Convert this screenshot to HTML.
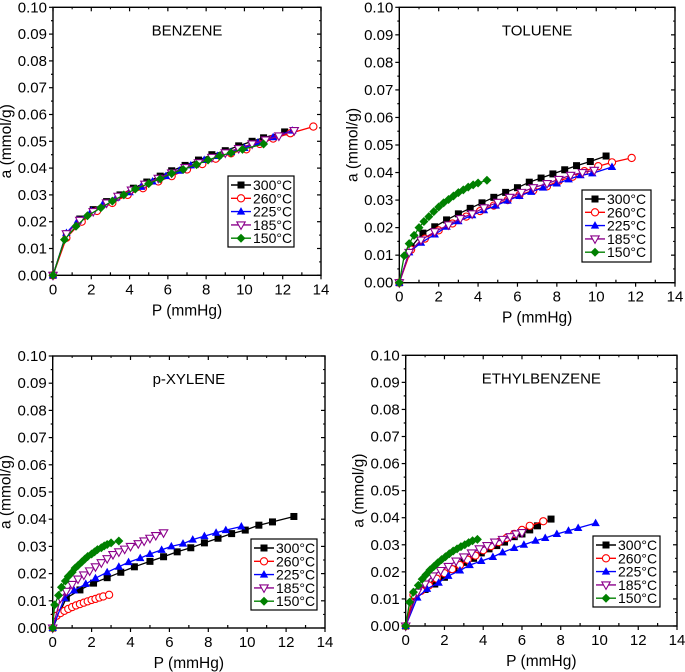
<!DOCTYPE html>
<html><head><meta charset="utf-8">
<style>
html,body{margin:0;padding:0;background:#fff;}
svg{display:block;font-family:"Liberation Sans",Arial,sans-serif;}
</style></head>
<body>
<svg id="fig" width="685" height="672" viewBox="0 0 685 672" xmlns="http://www.w3.org/2000/svg"></svg>
<script>
// ---- data ----
const temps = ["300°C","260°C","225°C","185°C","150°C"];
const xTicks = [0,2,4,6,8,10,12,14];
const yTicks = [0.00,0.01,0.02,0.03,0.04,0.05,0.06,0.07,0.08,0.09,0.10];

const benzene300 = [[0,0],[0.7,0.0155],[1.4,0.021],[2.1,0.0245],[2.8,0.0275],[3.5,0.030],[4.2,0.0325],[4.9,0.0348],[5.6,0.037],[6.2,0.039],[6.9,0.041],[7.6,0.043],[8.3,0.045],[9.0,0.0465],[9.7,0.0483],[10.4,0.050],[11.0,0.0513],[12.1,0.0535]];
const benzene260 = [[0,0],[0.7,0.014],[1.5,0.020],[2.3,0.024],[3.1,0.027],[3.9,0.030],[4.7,0.0325],[5.5,0.035],[6.2,0.037],[7.0,0.0395],[7.8,0.0415],[8.5,0.0435],[9.3,0.0455],[10.1,0.047],[10.8,0.049],[11.5,0.051],[12.4,0.053],[13.6,0.0555]];
const benzene225 = [[0,0],[0.7,0.0158],[1.3,0.0205],[2.0,0.024],[2.6,0.0265],[3.3,0.029],[4.0,0.031],[4.6,0.033],[5.2,0.035],[5.9,0.037],[6.6,0.039],[7.2,0.041],[7.9,0.043],[8.6,0.0445],[9.3,0.046],[10.0,0.0475],[10.7,0.0495],[11.5,0.0515],[12.5,0.054]];
const benzene185 = [[0,0],[0.7,0.0155],[1.4,0.0205],[2.1,0.0238],[2.8,0.027],[3.4,0.0295],[4.1,0.0318],[4.8,0.034],[5.5,0.0362],[6.2,0.0382],[6.9,0.0402],[7.6,0.042],[8.3,0.044],[9.0,0.0457],[9.7,0.0473],[10.4,0.049],[11.1,0.0505],[11.8,0.052],[12.6,0.054]];
const benzene150 = [[0,0],[0.6,0.0133],[1.2,0.0183],[1.8,0.0222],[2.5,0.0252],[3.1,0.0277],[3.7,0.030],[4.3,0.0322],[5.0,0.0342],[5.6,0.036],[6.2,0.038],[6.8,0.0395],[7.5,0.0413],[8.1,0.043],[8.7,0.0445],[9.3,0.0457],[9.9,0.047],[11.0,0.049]];

const toluene300 = [[0,0],[0.6,0.013],[1.2,0.018],[1.8,0.0203],[2.4,0.0228],[3.0,0.025],[3.6,0.027],[4.2,0.029],[4.8,0.031],[5.4,0.0328],[6.0,0.0345],[6.6,0.0365],[7.2,0.038],[7.8,0.0395],[8.4,0.041],[9.0,0.0425],[9.7,0.044],[10.5,0.046]];
const toluene260 = [[0,0],[0.6,0.012],[1.3,0.016],[2.0,0.019],[2.7,0.0215],[3.4,0.024],[4.1,0.026],[4.8,0.028],[5.5,0.030],[6.1,0.0318],[6.8,0.0335],[7.5,0.035],[8.1,0.037],[8.8,0.0385],[9.4,0.0405],[10.1,0.0423],[10.8,0.0437],[11.8,0.0453]];
const toluene225 = [[0,0],[0.5,0.011],[1.1,0.0145],[1.8,0.0175],[2.4,0.0203],[3.0,0.0223],[3.7,0.0245],[4.3,0.0263],[4.9,0.028],[5.5,0.0298],[6.1,0.0315],[6.7,0.033],[7.3,0.0345],[8.0,0.036],[8.6,0.0375],[9.2,0.039],[9.8,0.0397],[10.8,0.042]];
const toluene185 = [[0,0],[0.5,0.011],[1.1,0.0155],[1.8,0.0185],[2.5,0.021],[3.1,0.0233],[3.7,0.025],[4.3,0.0272],[5.0,0.0292],[5.6,0.031],[6.2,0.0328],[6.8,0.0345],[7.5,0.036],[8.1,0.0375],[8.7,0.039],[9.3,0.040],[9.9,0.0408]];
const toluene150 = [[0,0],[0.25,0.0098],[0.5,0.0142],[0.75,0.0172],[1.0,0.020],[1.25,0.0222],[1.5,0.024],[1.75,0.0258],[2.0,0.0275],[2.25,0.029],[2.5,0.0302],[2.75,0.0315],[3.0,0.0327],[3.25,0.0337],[3.5,0.0347],[3.75,0.0355],[4.0,0.0362],[4.45,0.0372]];

const xylene300 = [[0,0],[0.7,0.011],[1.4,0.014],[2.1,0.0165],[2.8,0.0185],[3.5,0.0205],[4.2,0.0225],[5.0,0.0245],[5.7,0.0262],[6.4,0.028],[7.1,0.0295],[7.8,0.0313],[8.5,0.033],[9.2,0.0347],[9.9,0.036],[10.6,0.0378],[11.3,0.039],[12.4,0.041]];
const xylene260 = [[0,0],[0.2,0.0045],[0.4,0.0055],[0.6,0.0063],[0.8,0.007],[1.0,0.0077],[1.2,0.0083],[1.4,0.0088],[1.6,0.0093],[1.8,0.0098],[2.0,0.0103],[2.2,0.0107],[2.4,0.0112],[2.6,0.0116],[2.9,0.0122]];
const xylene225 = [[0,0],[0.6,0.011],[1.1,0.0138],[1.7,0.0162],[2.2,0.0183],[2.8,0.0205],[3.4,0.0225],[3.9,0.0242],[4.5,0.0257],[5.0,0.0272],[5.6,0.0287],[6.1,0.030],[6.7,0.031],[7.2,0.0325],[7.8,0.0338],[8.4,0.035],[8.9,0.036],[9.7,0.0373]];
const xylene185 = [[0,0],[0.4,0.011],[0.7,0.0135],[1.0,0.016],[1.3,0.018],[1.6,0.0195],[1.9,0.021],[2.2,0.0225],[2.5,0.024],[2.8,0.0255],[3.1,0.027],[3.4,0.028],[3.7,0.029],[4.0,0.030],[4.4,0.031],[4.7,0.032],[5.0,0.033],[5.3,0.034],[5.7,0.035]];
const xylene150 = [[0,0],[0.1,0.0085],[0.3,0.012],[0.45,0.015],[0.65,0.0173],[0.8,0.019],[1.0,0.0205],[1.15,0.022],[1.3,0.023],[1.5,0.0243],[1.65,0.0253],[1.8,0.0263],[2.0,0.0272],[2.15,0.028],[2.3,0.0288],[2.5,0.0295],[2.65,0.0302],[2.8,0.0307],[3.0,0.0313],[3.4,0.032]];

const ethyl300 = [[0,0],[0.5,0.011],[1.0,0.0135],[1.5,0.0155],[2.0,0.018],[2.5,0.021],[3.0,0.0235],[3.5,0.025],[3.9,0.027],[4.3,0.0285],[4.7,0.0297],[5.1,0.031],[5.6,0.033],[6.0,0.034],[6.4,0.0355],[6.8,0.037],[7.5,0.0395]];
const ethyl260 = [[0,0],[0.4,0.0115],[0.8,0.013],[1.2,0.015],[1.6,0.0175],[2.0,0.0195],[2.4,0.021],[2.8,0.0225],[3.2,0.0245],[3.6,0.026],[4.0,0.028],[4.4,0.0295],[4.8,0.031],[5.2,0.0325],[5.6,0.034],[6.0,0.0355],[6.4,0.037],[7.1,0.0387]];
const ethyl225 = [[0,0],[0.6,0.0105],[1.1,0.0137],[1.7,0.016],[2.2,0.0185],[2.8,0.0205],[3.3,0.0225],[3.9,0.024],[4.5,0.0255],[5.0,0.0272],[5.6,0.0288],[6.1,0.030],[6.7,0.0315],[7.2,0.0325],[7.8,0.034],[8.4,0.0352],[8.9,0.0362],[9.8,0.038]];
const ethyl185 = [[0,0],[0.6,0.0125],[1.0,0.0155],[1.4,0.0185],[1.8,0.0205],[2.2,0.022],[2.6,0.024],[3.0,0.0255],[3.4,0.027],[3.8,0.0285],[4.2,0.0297],[4.6,0.031],[5.0,0.032],[5.4,0.033],[5.7,0.034],[6.0,0.0345]];
const ethyl150 = [[0,0],[0.2,0.0088],[0.4,0.0125],[0.65,0.015],[0.85,0.0173],[1.05,0.019],[1.25,0.0207],[1.45,0.022],[1.65,0.0233],[1.85,0.0245],[2.05,0.0256],[2.25,0.0267],[2.45,0.0277],[2.65,0.0285],[2.85,0.0293],[3.05,0.03],[3.25,0.0308],[3.45,0.0315],[3.7,0.032]];

const NS = "http://www.w3.org/2000/svg";
const svg = document.getElementById("fig");
const colors = ["#000000","#ff0000","#0000ff","#8b008b","#008000"];
const markers = ["square","circle","triangle","itriangle","diamond"];

function mk(tag, attrs, parent){
  const e = document.createElementNS(NS, tag);
  for (const k in attrs) e.setAttribute(k, attrs[k]);
  parent.appendChild(e);
  return e;
}
function marker(g, type, x, y, c){
  let m;
  if (type==="square") m = mk("rect",{x:x-3.5,y:y-3.5,width:7,height:7,fill:c},g);
  else if (type==="circle") m = mk("circle",{cx:x,cy:y,r:3.6,fill:"#fff",stroke:c,"stroke-width":1.1},g);
  else if (type==="triangle") m = mk("polygon",{points:`${x},${y-4.5} ${x-4.2},${y+3} ${x+4.2},${y+3}`,fill:c},g);
  else if (type==="itriangle") m = mk("polygon",{points:`${x},${y+4.5} ${x-4.2},${y-3} ${x+4.2},${y-3}`,fill:"#fff",stroke:c,"stroke-width":1.1},g);
  else m = mk("polygon",{points:`${x},${y-4.5} ${x+4.5},${y} ${x},${y+4.5} ${x-4.5},${y}`,fill:c},g);
  
  
}

function panel(name, title, L, R, T, B, series, leg){
  const g = mk("g",{},svg);
  
  
  const xs = v => L + (v - 0) / 14 * (R - L);
  const ys = v => B - v / 0.10 * (B - T);
  const fr = mk("rect",{x:L,y:T,width:R-L,height:B-T,fill:"none",stroke:"#000","stroke-width":1.4},g);
  
  
  xTicks.forEach((t,i)=>{
    const x = xs(t);
    mk("line",{x1:x,y1:B,x2:x,y2:B+4,stroke:"#000","stroke-width":1.2},g);
    mk("line",{x1:x,y1:T,x2:x,y2:T+4,stroke:"#000","stroke-width":1.2},g);
    const tx = mk("text",{x:x,y:B+19,"text-anchor":"middle","font-size":15},g);
    tx.textContent = t;
    
    
    if (i < xTicks.length-1){
      const xm = xs(t+1);
      mk("line",{x1:xm,y1:B,x2:xm,y2:B-3,stroke:"#000","stroke-width":1.2},g);
      mk("line",{x1:xm,y1:T,x2:xm,y2:T+2,stroke:"#000","stroke-width":1},g);
    }
  });
  yTicks.forEach((t,i)=>{
    const y = ys(t);
    mk("line",{x1:L,y1:y,x2:L-4,y2:y,stroke:"#000","stroke-width":1.2},g);
    mk("line",{x1:R,y1:y,x2:R-4,y2:y,stroke:"#000","stroke-width":1.2},g);
    const ty = mk("text",{x:L-6,y:y+5,"text-anchor":"end","font-size":15},g);
    ty.textContent = t.toFixed(2);
    
    
    if (i < yTicks.length-1){
      const ym = ys(t+0.005);
      mk("line",{x1:L,y1:ym,x2:L-2,y2:ym,stroke:"#000","stroke-width":1.2},g);
      mk("line",{x1:R,y1:ym,x2:R-2,y2:ym,stroke:"#000","stroke-width":1},g);
    }
  });
  const xl = mk("text",{x:(L+R)/2,y:B+40,"text-anchor":"middle","font-size":15.5},g);
  xl.textContent = "P (mmHg)";
  
  
  const cy = (T+B)/2;
  const yl = mk("text",{x:0,y:0,"text-anchor":"middle","font-size":15.5,transform:`translate(${L-42},${cy}) rotate(-90)`},g);
  yl.textContent = "a (mmol/g)";
  
  
  const tt = mk("text",{x:(L+R)/2,y:T+28,"text-anchor":"middle","font-size":15},g);
  tt.textContent = title;
  
  
  series.forEach((s,i)=>{
    const sg = mk("g",{},g);
    
    
    const pts = s.map(p=>xs(p[0]).toFixed(1)+","+ys(p[1]).toFixed(1)).join(" ");
    const pl = mk("polyline",{points:pts,fill:"none",stroke:colors[i],"stroke-width":1.3},sg);
    
    
    s.forEach(p=>marker(sg, markers[i], xs(p[0]), ys(p[1]), colors[i]));
  });
  const lg = mk("g",{},g);
  
  
  const [lx,ly,lw,lh] = leg;
  mk("rect",{x:lx,y:ly,width:lw,height:lh,fill:"#fff",stroke:"#000","stroke-width":1.2},lg);
  temps.forEach((t,i)=>{
    const y = ly + 9 + i*13.3;
    const e = mk("g",{},lg);
    
    
    mk("line",{x1:lx+3,y1:y,x2:lx+23,y2:y,stroke:colors[i],"stroke-width":1.4},e);
    marker(e, markers[i], lx+13, y, colors[i]);
    const lt = mk("text",{x:lx+25,y:y+5,"font-size":14},e);
    lt.textContent = t;
  });
}

panel("benzene","BENZENE",53,321,7.3,275.3,[benzene300,benzene260,benzene225,benzene185,benzene150],[228,176,66,71]);
panel("toluene","TOLUENE",399.3,675,7.3,282.7,[toluene300,toluene260,toluene225,toluene185,toluene150],[582,190,69,72]);
panel("p-xylene","p-XYLENE",52.7,325,356,628,[xylene300,xylene260,xylene225,xylene185,xylene150],[251,539,66,71]);
panel("ethylbenzene","ETHYLBENZENE",405.7,677,355.3,626,[ethyl300,ethyl260,ethyl225,ethyl185,ethyl150],[593,536,67,71]);
</script>
</body></html>
